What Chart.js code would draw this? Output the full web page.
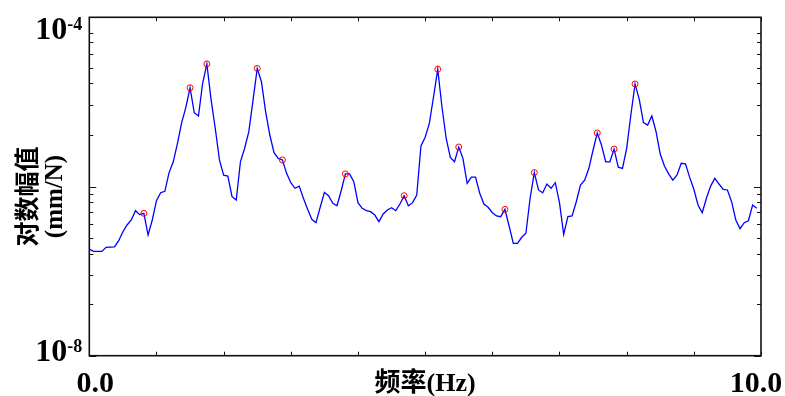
<!DOCTYPE html>
<html><head><meta charset="utf-8">
<script src="https://cdn.jsdelivr.net/npm/chart.js@4/dist/chart.umd.min.js"></script>
<style>html,body{margin:0;padding:0;background:#fff;}canvas{display:block;}</style>
</head><body>
<canvas id="c" width="785" height="396"></canvas>
<script>
// Frequency grid (Hz)
const freq = [
0,0.0625,0.125,0.1875,0.25,0.3125,0.375,0.4375,
0.5,0.5625,0.625,0.6875,0.75,0.8125,0.875,0.9375,
1,1.0625,1.125,1.1875,1.25,1.3125,1.375,1.4375,
1.5,1.5625,1.625,1.6875,1.75,1.8125,1.875,1.9375,
2,2.0625,2.125,2.1875,2.25,2.3125,2.375,2.4375,
2.5,2.5625,2.625,2.6875,2.75,2.8125,2.875,2.9375,
3,3.0625,3.125,3.1875,3.25,3.3125,3.375,3.4375,
3.5,3.5625,3.625,3.6875,3.75,3.8125,3.875,3.9375,
4,4.0625,4.125,4.1875,4.25,4.3125,4.375,4.4375,
4.5,4.5625,4.625,4.6875,4.75,4.8125,4.875,4.9375,
5,5.0625,5.125,5.1875,5.25,5.3125,5.375,5.4375,
5.5,5.5625,5.625,5.6875,5.75,5.8125,5.875,5.9375,
6,6.0625,6.125,6.1875,6.25,6.3125,6.375,6.4375,
6.5,6.5625,6.625,6.6875,6.75,6.8125,6.875,6.9375,
7,7.0625,7.125,7.1875,7.25,7.3125,7.375,7.4375,
7.5,7.5625,7.625,7.6875,7.75,7.8125,7.875,7.9375,
8,8.0625,8.125,8.1875,8.25,8.3125,8.375,8.4375,
8.5,8.5625,8.625,8.6875,8.75,8.8125,8.875,8.9375,
9,9.0625,9.125,9.1875,9.25,9.3125,9.375,9.4375,
9.5,9.5625,9.625,9.6875,9.75,9.8125,9.875,9.9375
];
// Amplitude (mm/N)
const amplitude = [
1.82e-7,1.71e-7,1.71e-7,1.71e-7,1.91e-7,1.92e-7,1.93e-7,2.29e-7,2.92e-7,3.51e-7,
4.02e-7,5.18e-7,4.65e-7,4.82e-7,2.67e-7,4.02e-7,6.79e-7,8.45e-7,8.77e-7,1.46e-6,
1.96e-6,3.24e-6,5.68e-6,8.63e-6,1.47e-5,7.45e-6,6.81e-6,1.66e-5,2.81e-5,1.07e-5,
4.88e-6,2.06e-6,1.36e-6,1.33e-6,7.57e-7,6.92e-7,1.96e-6,2.83e-6,4.45e-6,1.05e-5,
2.49e-5,1.73e-5,7.66e-6,4.06e-6,2.51e-6,2.15e-6,2.06e-6,1.43e-6,1.11e-6,9.53e-7,
1.01e-6,7.26e-7,5.37e-7,4.09e-7,3.73e-7,5.68e-7,8.53e-7,7.78e-7,6.32e-7,5.93e-7,
8.91e-7,1.41e-6,1.41e-6,1.14e-6,6.44e-7,5.52e-7,5.18e-7,5.04e-7,4.60e-7,3.84e-7,
4.73e-7,5.27e-7,5.61e-7,5.18e-7,6.21e-7,7.78e-7,5.93e-7,6.44e-7,7.94e-7,3.01e-6,
3.82e-6,5.58e-6,1.15e-5,2.43e-5,8.77e-6,3.72e-6,2.21e-6,1.96e-6,2.93e-6,2.15e-6,
1.09e-6,1.29e-6,1.29e-6,8.32e-7,6.21e-7,5.68e-7,4.90e-7,4.48e-7,4.40e-7,5.37e-7,
3.41e-7,2.13e-7,2.13e-7,2.51e-7,2.80e-7,7.26e-7,1.46e-6,9.10e-7,8.45e-7,1.07e-6,
9.53e-7,1.11e-6,6.44e-7,2.72e-7,4.40e-7,4.48e-7,6.61e-7,1.04e-6,1.19e-6,1.64e-6,
2.70e-6,4.29e-6,3.10e-6,1.96e-6,1.96e-6,2.77e-6,1.69e-6,1.64e-6,2.83e-6,7.00e-6,
1.63e-5,1.07e-5,5.68e-6,5.33e-6,6.81e-6,4.45e-6,2.42e-6,1.75e-6,1.41e-6,1.19e-6,
1.37e-6,1.88e-6,1.85e-6,1.29e-6,9.27e-7,6.04e-7,4.90e-7,7.26e-7,1.01e-6,1.25e-6,
1.07e-6,9.27e-7,9.10e-7,6.61e-7,4.02e-7,3.17e-7,3.73e-7,3.94e-7,6.04e-7,5.52e-7
];
// Marked peaks
const peakFreq = [0.8125,1.5,1.75,2.5,2.875,3.8125,4.6875,5.1875,5.5,6.1875,6.625,7.5625,7.8125,8.125];
const peakAmp  = [4.82e-7,1.47e-5,2.81e-5,2.49e-5,2.06e-6,1.41e-6,7.78e-7,2.43e-5,2.93e-6,5.37e-7,1.46e-6,4.29e-6,2.77e-6,1.63e-5];

// Axes
const xTicks = [0,1,2,3,4,5,6,7,8,9,10];
const xTickLabels = ['0.0','10.0'];
const yMajorTicks = [1e-4,1e-6,1e-8];
const yMinorTicks = [6.47e-5,5.06e-5,3.65e-5,2.49e-5,1.66e-5,9.1e-6,4.1e-6,
                     8.13e-7,6.47e-7,4.99e-7,3.65e-7,2.49e-7,1.61e-7,9.1e-8,4.03e-8];
const yTickBase = '10';
const yTickExp = ['-4','-8'];
const xTitle = '频率(Hz)';
const yTitle = ['对数幅值','(mm/N)'];

const SERIF = '"Liberation Serif","Times New Roman",serif';
const TITLEFONT = '"Liberation Serif","Noto Sans CJK SC",serif';

const frame = {
  id:'frame',
  afterDraw(chart){
    const {ctx, chartArea:a, scales:{x,y}} = chart;
    ctx.save();
    ctx.strokeStyle = '#111';
    ctx.lineWidth = 1;
    const seg=(x1,y1,x2,y2)=>{ctx.beginPath();ctx.moveTo(x1,y1);ctx.lineTo(x2,y2);ctx.stroke();};
    xTicks.forEach(v=>{const px=Math.round(x.getPixelForValue(v))+0.5;
      seg(px,a.bottom,px,a.bottom-4); seg(px,a.top,px,a.top+4);});
    yMajorTicks.forEach(v=>{const py=Math.round(y.getPixelForValue(v))+0.5;
      seg(a.left,py,a.left+7,py); seg(a.right,py,a.right-7,py);});
    yMinorTicks.forEach(v=>{const py=Math.round(y.getPixelForValue(v))+0.5;
      seg(a.left,py,a.left+4,py); seg(a.right,py,a.right-4,py);});
    ctx.lineWidth = 1.6;
    ctx.strokeRect(a.left, a.top, a.right-a.left, a.bottom-a.top);

    ctx.fillStyle = '#000';
    ctx.textBaseline = 'alphabetic';
    // y tick labels
    [[1e-4, 22, 0],[1e-8, 5, 1]].forEach(([v,dy,i])=>{
      const py = y.getPixelForValue(v);
      ctx.font = 'bold 18px '+SERIF;
      const ew = ctx.measureText(yTickExp[i]).width;
      const right = a.left - 7;
      ctx.textAlign='right';
      ctx.fillText(yTickExp[i], right, py+dy-9);
      ctx.font = 'bold 32px '+SERIF;
      ctx.fillText(yTickBase, right-ew, py+dy);
    });
    // x tick labels
    ctx.font = 'bold 30px '+SERIF;
    ctx.textAlign='center';
    ctx.fillText(xTickLabels[0], x.getPixelForValue(0)+6, 392);
    ctx.fillText(xTickLabels[1], x.getPixelForValue(10)-5, 392);
    // x title
    ctx.font = 'bold 26px '+TITLEFONT;
    ctx.fillText(xTitle, (a.left+a.right)/2, 391);
    // y title
    ctx.translate(0,(a.top+a.bottom)/2+10);
    ctx.rotate(-Math.PI/2);
    ctx.font = 'bold 25px '+TITLEFONT;
    ctx.fillText(yTitle[0], 0, 36);
    ctx.fillText(yTitle[1], 0, 62);
    ctx.restore();
  }
};

new Chart(document.getElementById('c'), {
  type:'line',
  data:{datasets:[
    {data: freq.map((f,i)=>({x:f,y:amplitude[i]})), borderColor:'#0000ff', borderWidth:1.3,
     pointRadius:0, tension:0, fill:false, order:2},
    {data: peakFreq.map((f,i)=>({x:f,y:peakAmp[i]})), showLine:false, pointRadius:3,
     pointBorderColor:'#ff0000', pointBackgroundColor:'rgba(0,0,0,0)', pointBorderWidth:1, order:1}
  ]},
  options:{
    responsive:false, animation:false,
    layout:{padding:{left:89.3, right:24, top:17.3, bottom:40.3}},
    plugins:{legend:{display:false}, tooltip:{enabled:false}},
    scales:{
      x:{type:'linear', min:0, max:10, display:false},
      y:{type:'logarithmic', min:1e-8, max:1e-4, display:false}
    }
  },
  plugins:[frame]
});
</script>
</body></html>
